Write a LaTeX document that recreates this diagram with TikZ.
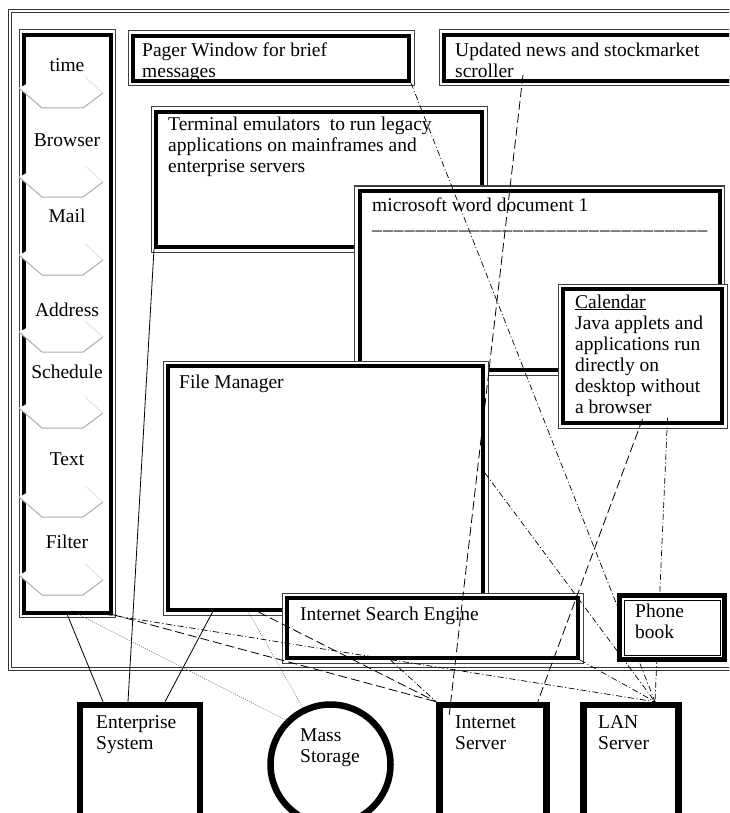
\documentclass[tikz,border=0pt]{standalone}
\usepackage{fontspec}
\setmainfont{Liberation Serif}
\usetikzlibrary{positioning}
\newcommand{\dashchar}{\_\kern1.1pt}

\begin{document}
\begin{tikzpicture}[x=1pt,y=-1pt,
  every node/.style={font=\fontsize{19.5}{21}\selectfont},
  win/.style={draw,fill=white,line width=4pt,inner sep=0pt,
    preaction={draw=black!75,line width=11pt},
    preaction={draw=white,line width=9pt}},
  winrev/.style={draw,fill=white,line width=1pt,inner sep=0pt,
    preaction={draw,line width=14pt},
    preaction={draw=white,line width=4pt}},
  srv/.style={draw,fill=white,line width=6.5pt,inner sep=0pt},
  txt/.style={inner sep=0pt,align=left,anchor=north west,execute at begin node=\strut},
  solidln/.style={line width=0.8pt},
  dotln/.style={gray,line width=0.6pt,dash pattern=on 1pt off 1.2pt},
  dashln/.style={line width=0.8pt,dash pattern=on 9pt off 4pt},
  dotdashln/.style={line width=0.7pt,dash pattern=on 6pt off 2.5pt on 1pt off 2.5pt}
]
\useasboundingbox (0,0) rectangle (729,813);
\clip (0,0) rectangle (729,813);

% desktop frame
\draw[black!80,line width=1pt] (8,10) rectangle (760,670);
\draw[black!80,line width=1pt] (11,13) rectangle (757,667);

% windows
\node[win,minimum width=326pt,minimum height=135pt] (term) at (319,179.5) {};
\node[win,minimum width=360pt,minimum height=179pt] (word) at (539.5,280.5) {};
\node[win,minimum width=315pt,minimum height=244pt] (fm) at (325.5,488) {};
\node[win,minimum width=159pt,minimum height=134pt] (cal) at (642.5,356) {};
\node[win,minimum width=291pt,minimum height=60pt] (search) at (432.5,628) {};
\node[win,minimum width=276pt,minimum height=45pt] (pager) at (271,58.5) {};
\node[win,minimum width=291pt,minimum height=46pt] (news) at (589.5,58) {};
\node[win,minimum width=86.5pt,minimum height=577.5pt] (sidebar) at (67.25,323.75) {};

% tabs
\foreach \b in {108,197,275,352,428,517,595}{
  \fill[white] (19,\b-20) -- (40,\b-31) -- (85,\b-31) -- (103,\b-15) -- (83,\b) -- (42,\b) -- cycle;
  \draw[gray!65,line width=1pt] (19,\b-20) -- (42,\b) -- (83,\b) -- (103,\b-15);
  \draw[gray!20,line width=1pt] (103,\b-15) -- (85,\b-31);
}
\foreach \lbl/\yb in {time/72,Browser/147,Mail/222,Address/316,Schedule/378,Text/465,Filter/548}
  \node[txt,anchor=base] (tab-\lbl) at (67,\yb) {\lbl};

% window texts
\node[txt] (pagerlbl) at (142,42.3) {Pager Window for brief\\messages};
\node[txt] (newslbl) at (455,42.3) {Updated news and stockmarket\\scroller};
\node[txt] (termlbl) at (168,116.3) {Terminal emulators~ to run legacy\\applications on mainframes and\\enterprise servers};
\node[txt] (wordlbl) at (372,197.3) {microsoft word document 1\\[-3pt]%
  \dashchar\dashchar\dashchar\dashchar\dashchar\dashchar\dashchar\dashchar\dashchar\dashchar
  \dashchar\dashchar\dashchar\dashchar\dashchar\dashchar\dashchar\dashchar\dashchar\dashchar
  \dashchar\dashchar\dashchar\dashchar\dashchar\dashchar\dashchar\dashchar\dashchar\dashchar\dashchar};
\node[txt] (callbl) at (575,294.3) {\underline{Calendar}\\Java applets and\\applications run\\directly on\\desktop without\\a browser};
\node[txt] (fmlbl) at (179,373.3) {File Manager};
\node[txt] (searchlbl) at (300,605.3) {Internet Search Engine};

% servers
\node[srv,minimum width=120pt,minimum height=130pt] (ent) at (140,770) {};
\node[srv,circle,minimum size=120pt] (mass) at (330.5,764.5) {};
\node[srv,minimum width=107pt,minimum height=130pt] (inet) at (493,770) {};
\node[srv,minimum width=95pt,minimum height=130pt] (lan) at (631,770) {};
\node[txt] (entlbl) at (96,715.3) {Enterprise\\System};
\node[txt] (masslbl) at (300,728.3) {Mass\\Storage};
\node[txt] (inetlbl) at (455,715.3) {Internet\\Server};
\node[txt] (lanlbl) at (598,715.3) {LAN\\Server};
\coordinate (lantop) at ([xshift=24pt]lan.north);

% links
\draw[solidln] (sidebar.south) -- ([xshift=-37pt]ent.north);
\draw[solidln] (term.south west) -- ([xshift=-12pt]ent.north);
\draw[solidln] ([xshift=-113pt]fm.south) -- ([xshift=25pt]ent.north);
\draw[dotln] ([xshift=11pt]sidebar.south) -- (mass.135);
\draw[dotln] ([xshift=-77pt]fm.south) -- (mass.116);
\draw[dashln] (sidebar.south east) -- (inet.north west);
\draw[dashln] ([xshift=-67pt]fm.south) -- (inet.north west);
\draw[dotdashln] ([xshift=-42pt]search.south) -- (inet.north west);
\draw[dashln] ([shift={(81pt,8pt)}]news.south west) -- ([shift={(13pt,-13pt)}]inet.north west);
\draw[dashln] ([yshift=6pt]cal.south) -- ([xshift=-12pt]inet.north east);
\draw[dotdashln] ([xshift=-6pt]sidebar.south east) -- (lantop);
\draw[dotdashln] (pager.south east) -- (lantop);
\draw[dotdashln] ([shift={(25pt,7pt)}]cal.south) -- (lantop);
\draw[dotdashln] ([yshift=15pt]fm.east) -- (lantop);
\draw[dotdashln] (search.south east) -- (lantop);

% phone book on top
\node[winrev,minimum width=96pt,minimum height=55pt] (phone) at (672,627.5) {};
\node[txt] (phonelbl) at (635,603.3) {Phone\\book};
\end{tikzpicture}
\end{document}
